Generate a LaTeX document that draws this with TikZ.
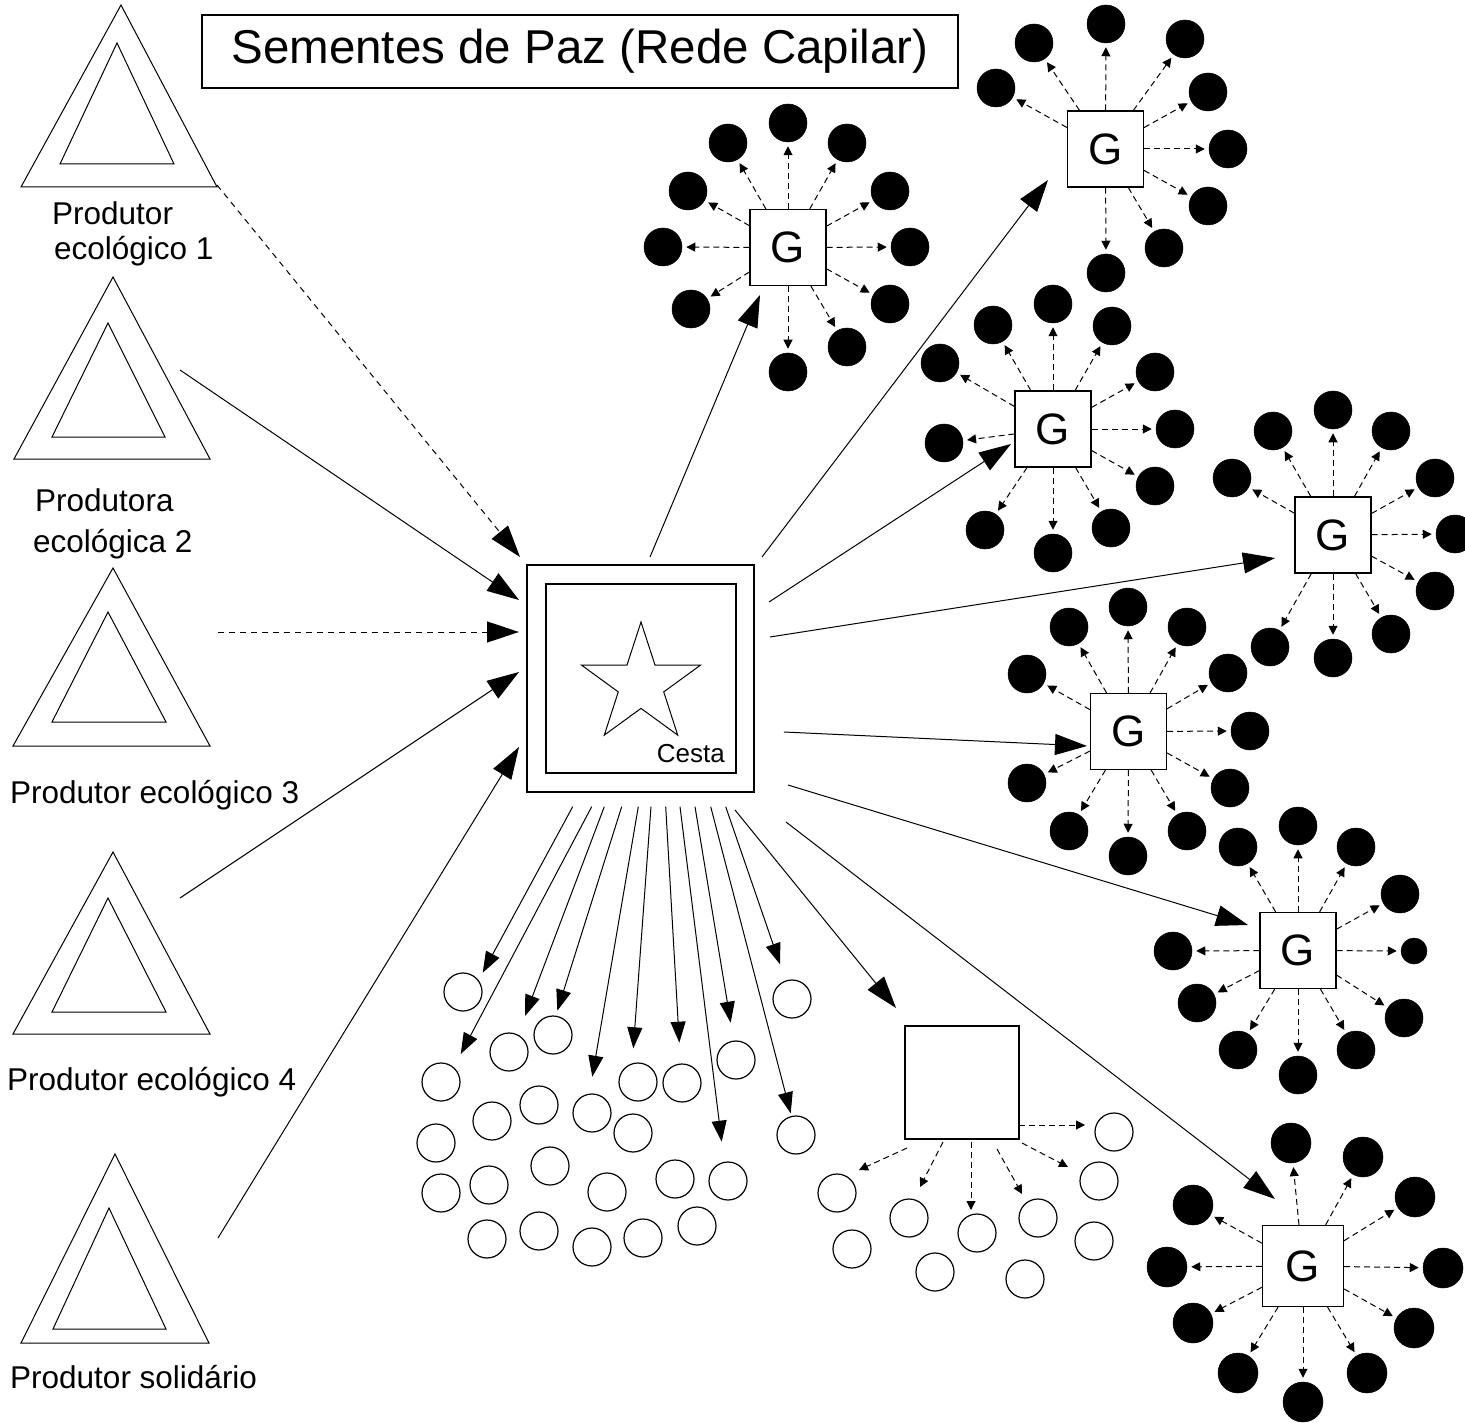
\documentclass[tikz,border=0pt]{standalone}
\usepackage{fontspec}
\setmainfont{Liberation Sans}
\usetikzlibrary{arrows.meta}
\newcommand\gcluster[5]{%
  \node[gbox, minimum size=#3] (#1) at #2 {G};
  \foreach \n/\px/\py in {#5} {
    \node[dot, minimum size=#4] (#1\n) at (\px,\py) {};
    \draw[darr] (#1) -- (#1\n);
  }
}
\begin{document}
\begin{tikzpicture}[x=1pt,y=-1pt,
  box/.style={draw, line width=1.2pt, fill=white, inner sep=0pt},
  gbox/.style={box, font=\fontsize{44}{44}\selectfont},
  dot/.style={circle, fill=black, draw=black, line width=0.5pt, inner sep=0pt},
  ring/.style={circle, draw=black, line width=1.2pt, minimum size=38pt, inner sep=0pt},
  darr/.style={line width=1pt, dash pattern=on 6pt off 4pt, -{Triangle[length=9pt,width=9pt]}, shorten >=4pt},
  ddarr/.style={line width=1pt, dash pattern=on 6pt off 4pt, -{Triangle[length=9pt,width=9pt]}},
  bigarr/.style={line width=1pt, -{Triangle[length=32pt,width=21pt]}},
  bigdash/.style={bigarr, dash pattern=on 6pt off 5pt},
  midarr/.style={line width=1pt, -{Triangle[length=21pt,width=15pt]}},
  tri/.style={draw, line width=1pt, line join=miter},
  lbl/.style={anchor=base west, inner sep=0pt, font=\fontsize{31.5}{35}\selectfont},
]
\useasboundingbox (0,0) rectangle (1465,1423);
\clip (0,0) rectangle (1465,1423);
\fill[white] (0,0) rectangle (1465,1423);

% title
\node[draw, line width=1.2pt, minimum width=756pt, minimum height=73pt, inner sep=0pt,
  font=\fontsize{47.5}{47.5}\selectfont] (title) at (580,51.5) {Sementes de Paz (Rede Capilar)};

% producers (triangles)
\draw[tri] (121,5) -- (21,187) -- (217,187) -- cycle;
\draw[tri] (117,43) -- (60,164) -- (174,164) -- cycle;
\coordinate (t1) at (217,185);
\node[lbl] (l1a) at (52,225) {Produtor};
\node[lbl] (l1b) at (54,260) {ecológico 1};

\draw[tri] (113,277) -- (14,459) -- (210,459) -- cycle;
\draw[tri] (108,323) -- (52,437) -- (165,437) -- cycle;
\coordinate (t2) at (180,370);
\node[lbl] (l2a) at (35,511) {Produtora};
\node[lbl] (l2b) at (33,552) {ecológica 2};

\draw[tri] (113,568) -- (13,746) -- (210,746) -- cycle;
\draw[tri] (108,612) -- (52,722) -- (166,722) -- cycle;
\coordinate (t3) at (218,632);
\node[lbl] (l3) at (10,803) {Produtor ecológico 3};

\draw[tri] (113,852) -- (13,1034) -- (210,1034) -- cycle;
\draw[tri] (108,898) -- (52,1012) -- (166,1012) -- cycle;
\coordinate (t4) at (180,898);
\node[lbl] (l4) at (7,1090) {Produtor ecológico 4};

\draw[tri] (115,1154) -- (21,1343) -- (209,1343) -- cycle;
\draw[tri] (109,1208) -- (53,1329) -- (166,1329) -- cycle;
\coordinate (t5) at (218,1238);
\node[lbl] (l5) at (10,1388) {Produtor solidário};

% cesta
\node[box, minimum size=227pt] (cesta) at (640.5,678.5) {};
\node[draw, line width=1.2pt, inner sep=0pt, minimum width=190pt, minimum height=189pt] (cestain) at (641,678.5) {};
\draw[line width=1pt, line join=miter] (641,622) -- (655.05,665.16) -- (700.4,665.2) -- (663.73,691.89) -- (677.7,735.1) -- (641,708.4) -- (604.3,735.1) -- (618.27,691.89) -- (581.6,665.2) -- (626.95,665.16) -- cycle;
\node[anchor=base east, inner sep=0pt, font=\fontsize{26}{26}\selectfont] (cestalbl) at (725,762) {Cesta};

% incoming
\draw[bigdash] (t1) -- ([shift={(-120.5,-121.5)}]cesta.center);
\draw[bigarr] (t2) -- ([shift={(-121.5,-78.5)}]cesta.center);
\draw[bigdash] (t3) -- ([shift={(-121.5,-46.5)}]cesta.center);
\draw[bigarr] (t4) -- ([shift={(-121.5,-6.5)}]cesta.center);
\draw[bigarr] (t5) -- ([shift={(-121.5,68.5)}]cesta.center);

% G clusters
\gcluster{G1}{(788,247.5)}{76pt}{38pt}{top/788/123, tl/728/143, tr/847/143, lu/688/191, ru/890/191, l/663/247, r/910/247, ll/691/309, rl/890/304, br/847/347, b/788/372}
\gcluster{G2}{(1105.5,149)}{76pt}{38pt}{top/1106/24, tl/1034/43, lu/996/88, tr/1185/39, ru/1208/92, r/1228/149, rl/1208/206, br/1164/248, b/1106/273}
\gcluster{G3}{(1053,429)}{76pt}{38pt}{top/1053/304, tl/993/325, tr/1112/326, lu/940/363, ru/1155/372, l/944/443, r/1175/429, rl/1155/486, bl/985/530, b/1053/553, br/1111/528}
\gcluster{G4}{(1333,535)}{76pt}{38pt}{top/1333/410, tl/1273/431, tr/1391/431, lu/1232/478, ru/1435/478, r/1455/534, rl/1435/591, br/1391/634, b/1333/658, bl/1270/647}
\gcluster{G5}{(1128.5,731.5)}{76pt}{38pt}{top/1128/607, tl/1069/627, tr/1187/627, lu/1027/674, ru/1228/673, r/1250/731, ll/1027/783, rl/1230/788, bl/1069/831, b/1128/856, br/1187/831}
\gcluster{G6}{(1298,950.5)}{76pt}{38pt}{top/1298/826, tl/1238/847, tr/1356/847, ru/1400/894, rl/1404/1018, br/1356/1050, b/1298/1075, bl/1238/1050, ll/1197/1003, l/1173/951}
\node[dot, minimum size=26pt] (G6r) at (1414,951) {};
\draw[darr] (G6) -- (G6r);
\gcluster{G7}{(1303,1266)}{81pt}{40pt}{top/1291/1143, tr/1363/1157, ru/1415/1197, r/1443/1268, rl/1414/1328, br/1367/1373, b/1303/1402, bl/1238/1373, ll/1193/1323, l/1167/1267, lu/1193/1205}

% cesta -> G
\draw[bigarr] ([shift={(9.5,-121.5)}]cesta.center) -- ([shift={(-28,47.5)}]G1.center);
\draw[bigarr] ([shift={(121.5,-121.5)}]cesta.center) -- ([shift={(-57.5,31)}]G2.center);
\draw[bigarr] ([shift={(128.5,-76.5)}]cesta.center) -- ([shift={(-42,15)}]G3.center);
\draw[bigarr] ([shift={(129.5,-41.5)}]cesta.center) -- ([shift={(-58,23)}]G4.center);
\draw[bigarr] ([shift={(143.5,53.5)}]cesta.center) -- ([shift={(-41.5,14.5)}]G5.center);
\draw[bigarr] ([shift={(147.5,106.5)}]cesta.center) -- ([shift={(-50,-25.5)}]G6.center);
\draw[bigarr] ([shift={(145.5,143.5)}]cesta.center) -- ([shift={(-28,-67)}]G7.center);

% open circles (bottom left)
\foreach \n/\px/\py in {1/463/992, 2/792/999, 3/553/1035, 4/509/1052, 5/736/1060, 6/441/1082, 7/638/1082, 8/682/1083, 9/539/1105, 10/592/1113, 11/492/1121, 12/633/1133, 13/796/1135, 14/436/1143, 15/550/1166, 16/489/1185, 17/607/1192, 18/675/1179, 19/728/1181, 20/441/1193, 21/487/1239, 22/539/1231, 23/592/1247, 24/643/1238, 25/697/1226}
  \node[ring] (c\n) at (\px,\py) {};

\draw[midarr] ([shift={(-67.8,128.2)}]cesta.center) -- ([shift={(19.7,-19.3)}]c1.center);
\draw[midarr] ([shift={(-48.8,128.2)}]cesta.center) -- ([shift={(19.7,-28)}]c6.center);
\draw[midarr] ([shift={(-36.2,128.2)}]cesta.center) -- ([shift={(16,-36)}]c4.center);
\draw[midarr] ([shift={(-18.8,128.2)}]cesta.center) -- ([shift={(4.3,-24.3)}]c3.center);
\draw[midarr] ([shift={(-2.2,128.2)}]cesta.center) -- ([shift={(0.3,-36.3)}]c10.center);
\draw[midarr] ([shift={(10.5,128.2)}]cesta.center) -- ([shift={(-4.7,-33.7)}]c7.center);
\draw[midarr] ([shift={(25.2,128.2)}]cesta.center) -- ([shift={(-2.7,-40.3)}]c8.center);
\draw[midarr] ([shift={(39.5,128.2)}]cesta.center) -- ([shift={(-6.3,-39.3)}]c19.center);
\draw[midarr] ([shift={(54.5,128.2)}]cesta.center) -- ([shift={(-5.3,-37.3)}]c5.center);
\draw[midarr] ([shift={(70.2,128.2)}]cesta.center) -- ([shift={(-5.3,-21.7)}]c13.center);
\draw[midarr] ([shift={(85.2,128.2)}]cesta.center) -- ([shift={(-12,-34.7)}]c2.center);

% small square cluster
\node[box, minimum width=114pt, minimum height=113pt] (sq) at (962,1082.5) {};
\draw[bigarr] ([shift={(94.5,131.5)}]cesta.center) -- ([shift={(-66,-74.5)}]sq.center);
\foreach \n/\px/\py in {a/1114/1132, b/837/1193, c/909/1218, d/977/1233, e/1038/1218, f/1099/1181, g/852/1249, h/935/1272, i/1025/1279, j/1094/1241}
  \node[ring] (s\n) at (\px,\py) {};
\draw[ddarr] ([shift={(57,42.5)}]sq.center) -- ([shift={(-29,-7)}]sa.center);
\draw[ddarr] ([shift={(60,60.5)}]sq.center) -- ([shift={(-31,-14)}]sf.center);
\draw[ddarr] ([shift={(35,66.5)}]sq.center) -- ([shift={(-16,-24)}]se.center);
\draw[ddarr] ([shift={(9,59.5)}]sq.center) -- ([shift={(-6,-23)}]sd.center);
\draw[ddarr] ([shift={(-19,59.5)}]sq.center) -- ([shift={(11,-31)}]sc.center);
\draw[ddarr] ([shift={(-55,65.5)}]sq.center) -- ([shift={(22,-23)}]sb.center);
\end{tikzpicture}
\end{document}
